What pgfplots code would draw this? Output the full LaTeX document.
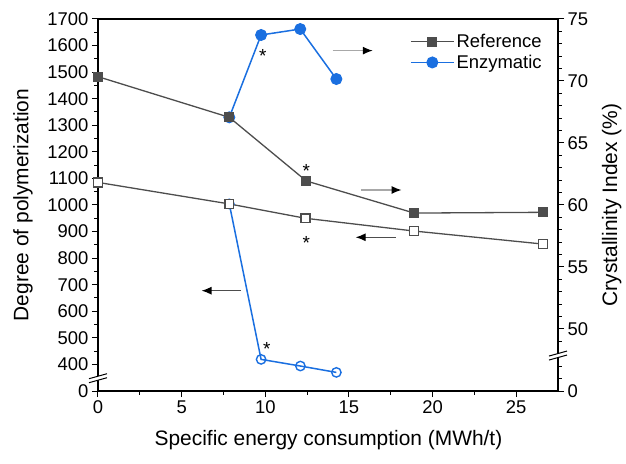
\documentclass[border=0pt]{standalone}
\usepackage{pgfplots}
\pgfplotsset{compat=1.18}
\usepackage{fontspec}
\setmainfont{Liberation Sans}
\usetikzlibrary{arrows.meta}
\definecolor{refgray}{HTML}{4D4D4D}
\definecolor{enzblue}{HTML}{1A6FE0}
\definecolor{arrlight}{HTML}{A8A8A8}
\begin{document}
\begin{tikzpicture}
\useasboundingbox (-98bp,-73bp) rectangle (528bp,391bp);
\pgfplotsset{
  common/.style={
    at={(0,0)}, anchor=south west,
    scale only axis, width=460bp, height=372bp,
    xmin=0, xmax=27.5,
    tick align=outside,
    major tick length=6bp, minor tick length=3.5bp,
    every tick/.style={black, line width=1bp},
    axis line style={line width=1.1bp},
    /pgf/number format/assume math mode=true,
    tick label style={font=\fontsize{18.5}{22}\selectfont},
    label style={font=\fontsize{21}{25}\selectfont},
    clip=false,
  }
}
% left axis: degree of polymerization (open markers)
\begin{axis}[common,
  ymin=300, ymax=1700,
  ytick={300,400,...,1700},
  yticklabels={0,400,500,600,700,800,900,1000,1100,1200,1300,1400,1500,1600,1700},
  minor y tick num=1,
  xtick={0,5,...,25}, minor x tick num=1,
  xtick pos=bottom, ytick pos=left,
  xlabel={Specific energy consumption (MWh/t)},
  ylabel={Degree of polymerization},
  xlabel style={at={(axis description cs:0.501,-0.132)}, anchor=center},
  ylabel style={at={(axis description cs:-0.163,0.5)}, anchor=center},
]
\addplot[enzblue, line width=1.5bp, mark=o, mark size=4.7bp,
  mark options={fill=white, line width=1.4bp}]
  coordinates {(7.85,1004) (9.75,419) (12.1,394) (14.25,370)};
\addplot[refgray, line width=1.3bp, mark=square*, mark size=4.4bp,
  mark options={fill=white, draw=refgray, line width=1.4bp}]
  coordinates {(0,1085) (7.85,1004) (12.4,950) (18.9,902) (26.6,853)};
\coordinate (bl) at (axis cs:0,350);
% arrows pointing to the axis each series belongs to
\draw[arrlight, line width=1.4bp, -{Latex[color=black, length=10bp, width=8bp]}]
  (axis cs:14.03,1581) -- (axis cs:16.43,1581);
\draw[arrlight, line width=1.4bp, -{Latex[color=black, length=10bp, width=8bp]}]
  (axis cs:15.71,1056.5) -- (axis cs:18.15,1056.5);
\draw[refgray, line width=1.2bp, -{Latex[color=black, length=10bp, width=8bp]}]
  (axis cs:17.8,878.5) -- (axis cs:15.4,878.5);
\draw[refgray, line width=1.2bp, -{Latex[color=black, length=10bp, width=8bp]}]
  (axis cs:8.55,677.5) -- (axis cs:6.19,677.5);
% significance marks
\node[font=\fontsize{19}{22}\selectfont, yshift=-4bp] at (axis cs:9.86,1577) {*};
\node[font=\fontsize{19}{22}\selectfont, yshift=-4bp] at (axis cs:12.45,1144) {*};
\node[font=\fontsize{19}{22}\selectfont, yshift=-4bp] at (axis cs:12.45,872) {*};
\node[font=\fontsize{19}{22}\selectfont, yshift=-4bp] at (axis cs:10.09,473) {*};
\end{axis}
% right axis: crystallinity index (filled markers)
\begin{axis}[common,
  axis x line=none, axis y line*=right,
  ymin=45, ymax=75,
  ytick={45,50,...,75},
  yticklabels={0,50,55,60,65,70,75},
  minor y tick num=4,
  ylabel={Crystallinity Index (\%)},
  ylabel style={at={(axis description cs:1.117,0.5)}, anchor=center},
  legend cell align=left,
  legend image code/.code={\draw[mark repeat=2,mark phase=2,#1]
    plot coordinates {(0bp,0bp) (21.5bp,0bp) (43bp,0bp)};},
  legend style={draw=none, fill=none, at={(0.678,0.965)}, anchor=north west,
    font=\fontsize{18.5}{22}\selectfont, inner sep=0pt, row sep=2bp},
]
\addplot[refgray, line width=1.3bp, mark=square*, mark size=4.5bp,
  mark options={fill=refgray, draw=refgray, line width=1bp}]
  coordinates {(0,70.35) (7.85,67.07) (12.45,61.94) (18.9,59.35) (26.6,59.41)};
\addlegendentry{Reference}
\addplot[enzblue, line width=1.5bp, mark=*, mark size=5.5bp,
  mark options={fill=enzblue, draw=enzblue, line width=1bp}]
  coordinates {(7.85,67.07) (9.75,73.71) (12.09,74.19) (14.25,70.16)};
\addlegendentry{Enzymatic}
\addplot[forget plot, only marks, mark=square*, mark size=4.5bp,
  mark options={fill=refgray, draw=refgray, line width=1bp}]
  coordinates {(7.85,67.07)};
\coordinate (br) at (axis cs:27.5,47.9);
\end{axis}
% axis breaks
\foreach \c in {bl,br} {
  \fill[white] ([shift={(-9bp,-5bp)}]\c) -- ([shift={(9bp,0bp)}]\c)
    -- ([shift={(9bp,4bp)}]\c) -- ([shift={(-9bp,-1bp)}]\c) -- cycle;
  \draw[line width=1bp] ([shift={(-9bp,-5bp)}]\c) -- ([shift={(9bp,0bp)}]\c);
  \draw[line width=1bp] ([shift={(-9bp,-1bp)}]\c) -- ([shift={(9bp,4bp)}]\c);
}
\end{tikzpicture}
\end{document}
